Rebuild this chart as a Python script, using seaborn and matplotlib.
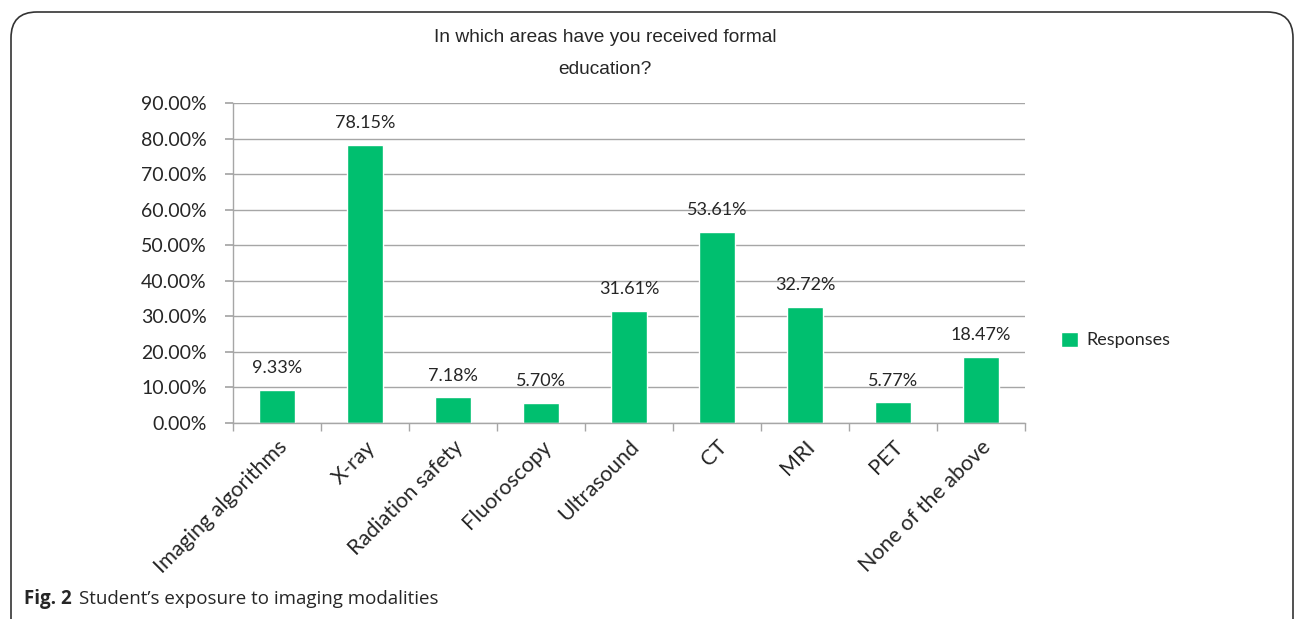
import matplotlib
matplotlib.use("Agg")
import matplotlib.pyplot as plt
import seaborn as sns
import pandas as pd
from matplotlib.patches import FancyBboxPatch, Patch

categories = ["Imaging algorithms", "X-ray", "Radiation safety", "Fluoroscopy",
              "Ultrasound", "CT", "MRI", "PET", "None of the above"]
values = [9.33, 78.15, 7.18, 5.70, 31.61, 53.61, 32.72, 5.77, 18.47]
yticks = [0, 10, 20, 30, 40, 50, 60, 70, 80, 90]
series_name = "Responses"

df = pd.DataFrame({"Category": categories, "Value": values, "Series": series_name})

sns.set_theme(style="white")
plt.rcParams['font.family'] = ['Lato', 'DejaVu Sans']

fig = plt.figure(figsize=(12.96, 6.19), dpi=100)
ax = fig.add_axes([233/1296, 1-423/619, (1025-233)/1296, (423-103)/619])

color = "#00BF6F"
sns.barplot(data=df, x="Category", y="Value", hue="Series", palette=[color],
            width=0.4, ax=ax, legend=False, saturation=1)

ax.set_ylim(0, 90)
ax.set_xlim(-0.5, len(categories) - 0.5)
ax.set_yticks(yticks)
ax.set_yticklabels([f"{t:.2f}%" for t in yticks], fontsize=14)
ax.yaxis.grid(True, color="#A6A6A6", linewidth=1)
ax.set_axisbelow(True)
for s in ["top", "right"]:
    ax.spines[s].set_visible(False)
for s in ["left", "bottom"]:
    ax.spines[s].set_color("#A6A6A6")
    ax.spines[s].set_linewidth(1)
ax.tick_params(axis="y", which="major", length=6, color="#A6A6A6", left=True, pad=13)

ax.set_xticks(range(len(categories)))
ax.set_xticklabels(categories, rotation=45, ha="right", rotation_mode="anchor", fontsize=15.5)
ax.tick_params(axis="x", which="major", length=0, pad=10)
ax.set_xticks([i - 0.5 for i in range(len(categories) + 1)], minor=True)
ax.tick_params(axis="x", which="minor", length=6, color="#A6A6A6", bottom=True)
ax.set_xlabel("")
ax.set_ylabel("")

for i, v in enumerate(values):
    ax.annotate(f"{v:.2f}%", (i, v), xytext=(0, 10), textcoords="offset points",
                ha="center", va="bottom", fontsize=13)

fig.text(605/1296, 1-38/619, "In which areas have you received formal", ha="center",
         va="center", fontsize=13.8, family=["Liberation Sans", "DejaVu Sans"])
fig.text(605/1296, 1-70/619, "education?", ha="center", va="center", fontsize=13.8,
         family=["Liberation Sans", "DejaVu Sans"])

fig.legend(handles=[Patch(facecolor=color, label=series_name)],
           loc="center left", bbox_to_anchor=(1045/1296, 1-340/619),
           frameon=False, fontsize=13, handlelength=0.9, handleheight=0.9,
           handletextpad=0.5)

fig.text(24/1296, 1-599/619, "Fig. 2", fontsize=13.5, fontweight="bold", va="center",
         family=["Open Sans", "DejaVu Sans"])
fig.text(79/1296, 1-599/619, "Student\u2019s exposure to imaging modalities", fontsize=13.5,
         va="center", family=["Open Sans", "DejaVu Sans"])

border = FancyBboxPatch((11/1296, -0.05), (1293-11)/1296, (1-12/619) + 0.05,
                        boxstyle="round,pad=0,rounding_size=0.02",
                        transform=fig.transFigure, fill=False, edgecolor="#333333",
                        linewidth=1.2, mutation_aspect=1296/619)
fig.patches.append(border)

fig.savefig("out.png", dpi=100)
